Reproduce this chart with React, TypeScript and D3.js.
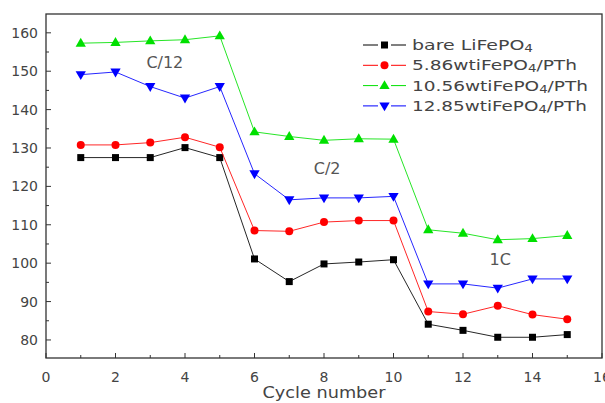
import React from "react";
import * as d3 from "d3";

const cycles = [1, 2, 3, 4, 5, 6, 7, 8, 9, 10, 11, 12, 13, 14, 15];
const bare = [127.5, 127.5, 127.5, 130.1, 127.5, 101.1, 95.2, 99.8, 100.3, 100.9, 84.1, 82.5, 80.7, 80.7, 81.4];
const s586 = [130.8, 130.8, 131.4, 132.8, 130.2, 108.5, 108.3, 110.7, 111.1, 111.1, 87.4, 86.7, 88.9, 86.6, 85.4];
const s1056 = [157.3, 157.5, 157.9, 158.2, 159.2, 134.2, 133.0, 132.0, 132.4, 132.3, 108.7, 107.8, 106.1, 106.4, 107.2];
const s1285 = [149.1, 149.8, 146.0, 143.0, 146.0, 123.3, 116.5, 117.0, 117.0, 117.4, 94.6, 94.6, 93.5, 95.9, 95.9];
const xTicks = [0, 2, 4, 6, 8, 10, 12, 14, 16];
const yTicks = [80, 90, 100, 110, 120, 130, 140, 150, 160];
const rateLabels = [
  { text: "C/12", x: 3.42, y: 150.9 },
  { text: "C/2", x: 8.09, y: 123.3 },
  { text: "1C", x: 13.07, y: 99.6 },
];

type Series = { name: string; sub: string; tail: string; values: number[]; color: string; marker: string; w: number };
const series: Series[] = [
  { name: "bare LiFePO", sub: "4", tail: "", values: bare, color: "#000000", marker: "square", w: 121 },
  { name: "5.86wtiFePO", sub: "4", tail: "/PTh", values: s586, color: "#ff0000", marker: "circle", w: 165 },
  { name: "10.56wtiFePO", sub: "4", tail: "/PTh", values: s1056, color: "#00e000", marker: "up", w: 176 },
  { name: "12.85wtiFePO", sub: "4", tail: "/PTh", values: s1285, color: "#0000ff", marker: "down", w: 175 },
];

const W = 605, H = 403;
const L = 46, R = 602, T = 14, B = 358;
const x = d3.scaleLinear().domain([0, 16]).range([L, R]);
const y = d3.scaleLinear().domain([75.3, 164.9]).range([B, T]);
const font = "'DejaVu Sans', Verdana, sans-serif";

function Marker({ kind, cx, cy, color }: { kind: string; cx: number; cy: number; color: string }) {
  if (kind === "square") return <rect x={cx - 3.5} y={cy - 3.5} width={7} height={7} fill={color} />;
  if (kind === "circle") return <circle cx={cx} cy={cy} r={4} fill={color} />;
  const sym = d3.symbol().type(d3.symbolTriangle).size(46)();
  return <path d={sym || ""} transform={`translate(${cx},${cy + (kind === "up" ? 0.5 : -0.5)}) rotate(${kind === "up" ? 0 : 180})`} fill={color} />;
}

export default function App() {
  const line = d3.line<number>().x((_, i) => x(cycles[i])).y((d) => y(d));
  const minorY = d3.range(80, 161, 5).filter((v) => v % 10 !== 0);
  const minorX = d3.range(1, 16, 2);
  return (
    <svg width={W} height={H} style={{ position: "absolute", left: 0, top: 0, background: "#fff" }} fontFamily={font}>
      {series.map((s) => (
        <g key={s.name}>
          <path d={line(s.values) || ""} fill="none" stroke={s.color} strokeWidth={1} strokeOpacity={0.85} />
          {s.values.map((v, i) => (
            <Marker key={i} kind={s.marker} cx={x(cycles[i])} cy={y(v)} color={s.color} />
          ))}
        </g>
      ))}
      <rect x={L} y={T} width={R - L} height={B - T} fill="none" stroke="#333" strokeWidth={1.3} />
      {yTicks.map((t) => (
        <g key={t}>
          <line x1={L} x2={L + 5} y1={y(t)} y2={y(t)} stroke="#333" />
          <text x={38} y={y(t) + 5} textAnchor="end" fontSize={14} fill="#444">{t}</text>
        </g>
      ))}
      {minorY.map((t) => (
        <line key={t} x1={L} x2={L + 3} y1={y(t)} y2={y(t)} stroke="#333" />
      ))}
      {xTicks.map((t) => (
        <g key={t}>
          <line x1={x(t)} x2={x(t)} y1={B} y2={B - 5} stroke="#333" />
          <text x={x(t)} y={382} textAnchor="middle" fontSize={14} fill="#444">{t}</text>
        </g>
      ))}
      {minorX.map((t) => (
        <line key={t} x1={x(t)} x2={x(t)} y1={B} y2={B - 3} stroke="#333" />
      ))}
      <text x={(L + R) / 2} y={398} textAnchor="middle" fontSize={15} fill="#444" textLength={123} lengthAdjust="spacingAndGlyphs">Cycle number</text>
      {rateLabels.map((r) => (
        <text key={r.text} x={x(r.x)} y={y(r.y)} textAnchor="middle" fontSize={16} fill="#555">{r.text}</text>
      ))}
      {series.map((s, i) => {
        const ly = 45 + i * 20.3;
        return (
          <g key={"lg" + s.name}>
            <line x1={363} x2={378} y1={ly} y2={ly} stroke={s.color} strokeWidth={1} />
            <line x1={391} x2={406} y1={ly} y2={ly} stroke={s.color} strokeWidth={1} />
            <Marker kind={s.marker} cx={384.5} cy={ly} color={s.color} />
            <text x={412} y={ly + 5} fontSize={14} fill="#444" textLength={s.w} lengthAdjust="spacingAndGlyphs">
              {s.name}
              <tspan fontSize={10} dy={2}>{s.sub}</tspan>
              <tspan dy={-2}>{s.tail}</tspan>
            </text>
          </g>
        );
      })}
    </svg>
  );
}
